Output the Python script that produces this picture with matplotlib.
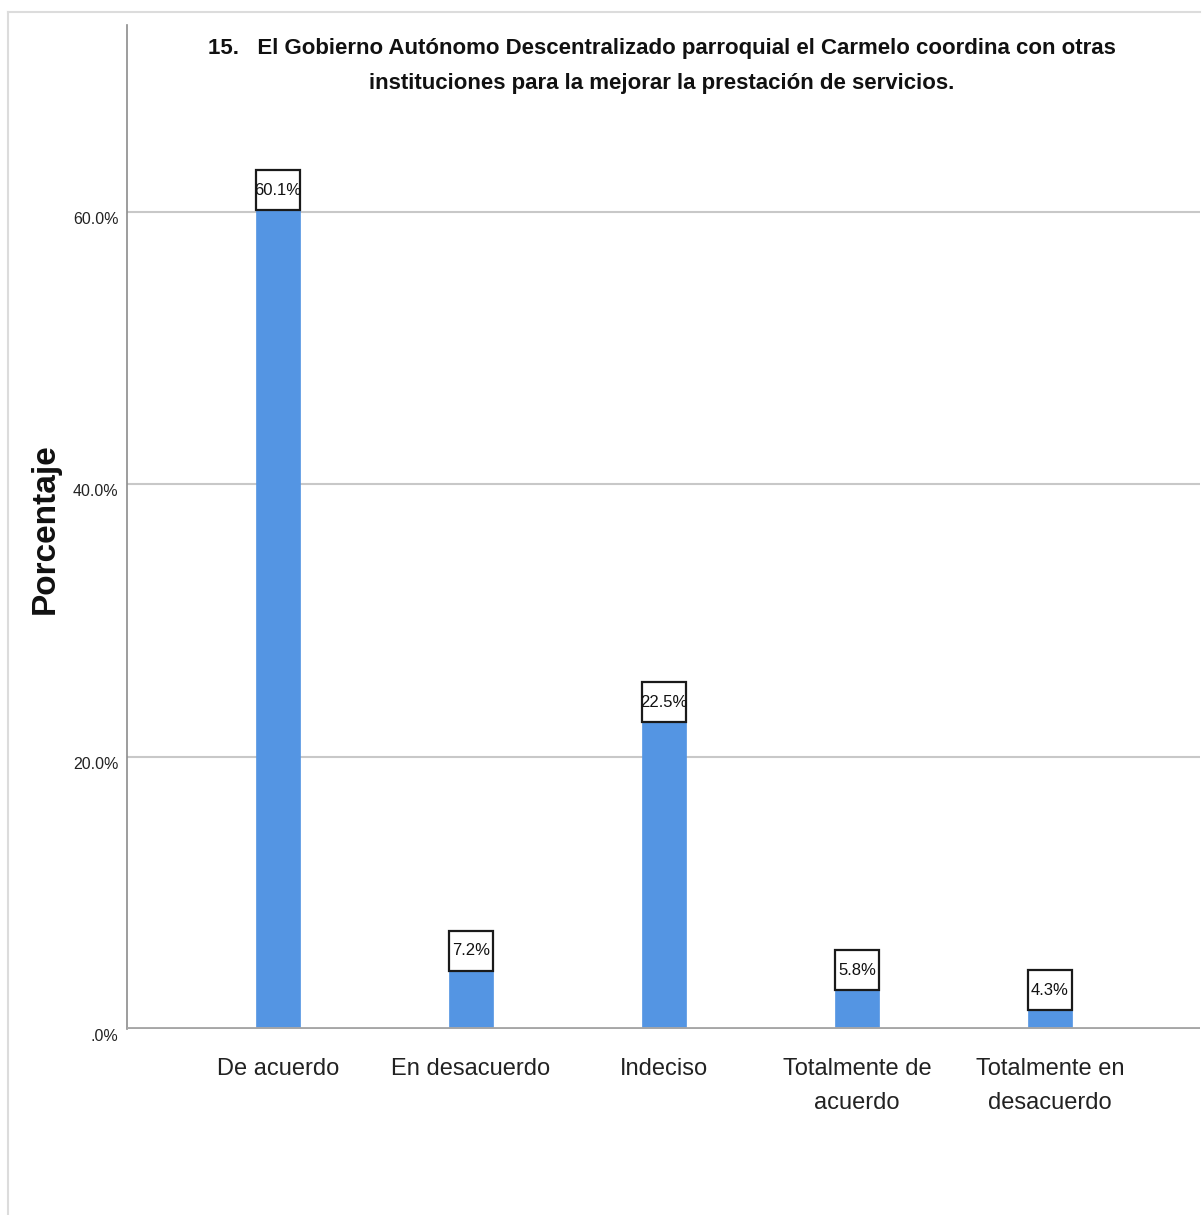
import matplotlib
matplotlib.use("Agg")
import matplotlib.pyplot as plt
from matplotlib.patches import Rectangle
from matplotlib.lines import Line2D
from matplotlib.ticker import FixedLocator, FixedFormatter
import logging
logging.getLogger("matplotlib.font_manager").setLevel(logging.ERROR)

categories = ["De acuerdo", "En desacuerdo", "Indeciso", "Totalmente de\nacuerdo", "Totalmente en\ndesacuerdo"]
values = [60.1, 7.2, 22.5, 5.8, 4.3]
value_labels = ["60.1%", "7.2%", "22.5%", "5.8%", "4.3%"]
yticks = [0, 20, 40, 60]
ytick_labels = [".0%", "20.0%", "40.0%", "60.0%"]
title = ("15.   El Gobierno Autónomo Descentralizado parroquial el Carmelo coordina con otras\n"
         "instituciones para la mejorar la prestación de servicios.")
ylabel = "Porcentaje"

NARROW = ["Liberation Sans Narrow", "Liberation Sans", "DejaVu Sans"]
SANS = ["Liberation Sans", "DejaVu Sans"]
W, H = 1202, 1215
fig = plt.figure(figsize=(W / 100, H / 100), dpi=100)
fig.patch.set_facecolor("white")

ax = fig.add_axes([127 / W, 1 - 1029 / H, (1200 - 127) / W, (1029 - 25) / H])
x = list(range(len(categories)))
bw = 0.228
ax.set_xlim(-0.782, 4.777)
ax.set_ylim(0, 73.7)

ax.set_axisbelow(True)
for t in yticks[1:]:
    ax.axhline(t, color="#c8c8c8", lw=1.5, zorder=0)

ax.bar(x, values, width=bw, color="#5495e3", edgecolor="#5495e3", linewidth=0.5, zorder=2)

for s in ["top", "right", "bottom"]:
    ax.spines[s].set_visible(False)
ax.spines["left"].set_color("#8c8c8c")
ax.spines["left"].set_linewidth(1.2)
ax.axhline(0, color="#a6a6a6", lw=3.5, zorder=3)

# value label boxes
box_h = 2.94
for xi, v, lab in zip(x, values, value_labels):
    y0 = v if v > 10 else v - box_h
    ax.add_patch(Rectangle((xi - bw / 2, y0), bw, box_h, facecolor="white",
                           edgecolor="#1a1a1a", lw=1.6, zorder=4))
    ax.text(xi, y0 + box_h / 2, lab, ha="center", va="center", fontsize=12,
            family=NARROW, color="#111111", zorder=5)

ax.yaxis.set_major_locator(FixedLocator(yticks))
ax.yaxis.set_major_formatter(FixedFormatter(ytick_labels))
ax.tick_params(axis="y", length=0, pad=6, labelsize=11.5, labelcolor="#222222")
for lbl in ax.get_yticklabels():
    lbl.set_family(NARROW)
    lbl.set_verticalalignment("top")

ax.set_xticks(x)
ax.set_xticklabels(categories, fontsize=17, family=NARROW, color="#222222",
                   linespacing=1.7)
ax.tick_params(axis="x", length=0, pad=21)

fig.text(45 / W, 1 - 529 / H, ylabel, rotation=90, ha="center", va="center",
         fontsize=24, fontweight="bold", family=SANS, color="#111111")

fig.text(662 / W, 1 - 66 / H, title, ha="center", va="center", fontsize=16,
         fontweight="bold", family=NARROW, color="#111111", linespacing=1.85)

# outer light frame
fig.add_artist(Line2D([8 / W, 8 / W], [0, 1 - 12 / H], transform=fig.transFigure,
                      color="#dcdcdc", lw=1.5))
fig.add_artist(Line2D([8 / W, 1200 / W], [1 - 12 / H, 1 - 12 / H], transform=fig.transFigure,
                      color="#dcdcdc", lw=1.5))

fig.savefig("out.png", dpi=100)
